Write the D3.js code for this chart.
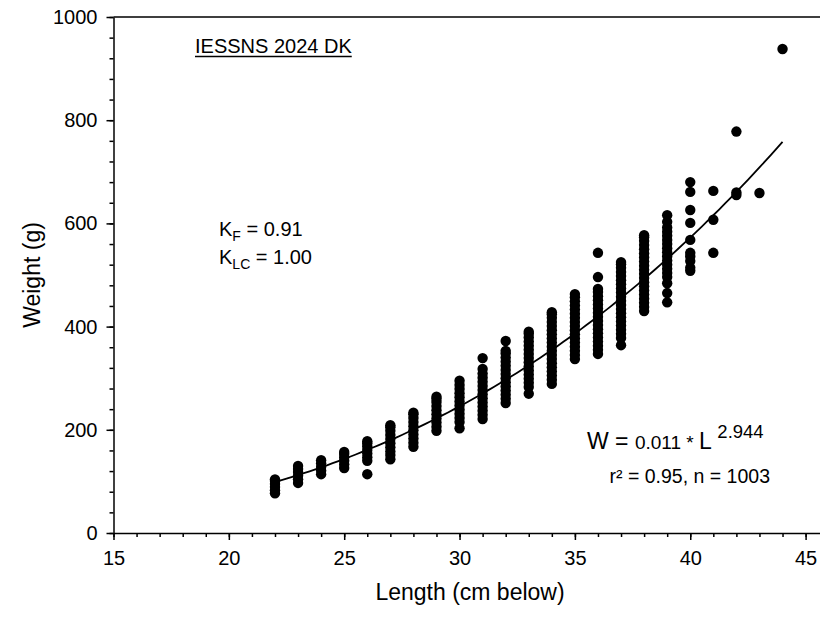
<!DOCTYPE html>
<html>
<head>
<meta charset="utf-8">
<script src="https://cdn.jsdelivr.net/npm/d3@7"></script>
<style>
  body { margin: 0; background: #fff; }
  svg { display: block; font-family: Arial, "Liberation Sans", sans-serif; }
</style>
</head>
<body>
<div id="chart-area"></div>
<script>
// lengths (cm) with the weights (g) for each length class
const lengths = [22, 23, 24, 25, 26, 27, 28, 29, 30, 31, 32, 33, 34, 35, 36, 37, 38, 39, 40, 41, 42, 43, 44];
const weights = [
    [77, 83, 89, 95, 101, 104],
    [97, 104, 111, 118, 124, 130],
    [114, 121, 128, 135, 141],
    [126, 133, 140, 147, 153, 157],
    [114, 140, 147, 154, 161, 168, 174, 178],
    [143, 151, 158, 166, 174, 182, 190, 198, 205, 209],
    [167, 175, 183, 191, 199, 207, 215, 223, 230, 233],
    [198, 206, 214, 222, 230, 238, 246, 254, 260, 264],
    [203, 215, 223, 231, 239, 247, 255, 263, 271, 279, 287, 295],
    [221, 229, 237, 245, 253, 261, 269, 277, 285, 293, 301, 309, 318, 339],
    [252, 260, 268, 276, 284, 292, 300, 308, 316, 324, 332, 340, 348, 353, 372],
    [270, 283, 291, 299, 307, 315, 323, 331, 339, 347, 355, 363, 371, 379, 386, 390],
    [289, 297, 305, 313, 321, 329, 337, 345, 353, 361, 369, 377, 385, 393, 401, 409, 417, 424, 428],
    [337, 345, 353, 361, 369, 377, 385, 393, 401, 409, 417, 425, 433, 441, 449, 457, 463],
    [347, 355, 363, 371, 379, 387, 395, 403, 411, 419, 427, 435, 443, 451, 459, 467, 473, 496, 543],
    [364, 378, 386, 394, 402, 410, 418, 426, 434, 442, 450, 458, 466, 474, 482, 490, 498, 506, 514, 521, 525],
    [430, 438, 446, 454, 462, 470, 478, 486, 494, 502, 510, 518, 526, 534, 542, 550, 558, 566, 573, 577],
    [447, 465, 484, 496, 504, 512, 520, 528, 536, 544, 552, 560, 568, 576, 584, 592, 603, 616],
    [508, 514, 527, 536, 543, 568, 601, 626, 661, 680],
    [543, 607, 663],
    [655, 660, 778],
    [659],
    [938]
];

// fitted curve W = a * L^b, as printed on the chart
const fitA = 0.011;
const fitB = 2.944;
const fitLengths = d3.range(22, 44.01, 0.25);

const xMajorTicks = [15, 20, 25, 30, 35, 40, 45];
const yMajorTicks = [0, 200, 400, 600, 800, 1000];

const points = [];
lengths.forEach((l, i) => {
    weights[i].forEach(w => points.push({ length: l, weight: w }));
});

const width = 820;
const height = 624;
const margin = { left: 113.5, top: 17 };
const chartWidth = 31 * 23.07;
const chartHeight = 516;

const svg = d3.select('#chart-area')
    .append('svg')
    .attr('width', width)
    .attr('height', height);

const g = svg.append('g')
    .attr('transform', `translate(${margin.left}, ${margin.top})`);

const x = d3.scaleLinear()
    .domain([15, 46])
    .range([0, chartWidth]);

const y = d3.scaleLinear()
    .domain([0, 1000])
    .range([chartHeight, 0]);

// frame (top and right edge)
g.append('path')
    .attr('d', `M0,0H${chartWidth}V${chartHeight}`)
    .attr('fill', 'none')
    .attr('stroke', '#000')
    .attr('stroke-width', 1.5);

// minor ticks
g.append('g')
    .attr('transform', `translate(0, ${chartHeight})`)
    .call(d3.axisBottom(x).tickValues(d3.range(15, 47)).tickSize(4).tickFormat(''))
    .call(a => a.select('.domain').remove())
    .selectAll('line').attr('stroke-width', 1.5);

g.append('g')
    .call(d3.axisLeft(y).tickValues(d3.range(0, 1001, 40)).tickSize(4).tickFormat(''))
    .call(a => a.select('.domain').remove())
    .selectAll('line').attr('stroke-width', 1.5);

// major axes
const xAxis = g.append('g')
    .attr('transform', `translate(0, ${chartHeight})`)
    .call(d3.axisBottom(x).tickValues(xMajorTicks).tickSize(7).tickSizeOuter(0).tickPadding(11));

const yAxis = g.append('g')
    .call(d3.axisLeft(y).tickValues(yMajorTicks).tickSize(7).tickSizeOuter(0).tickPadding(9)
        .tickFormat(d3.format('d')));

[xAxis, yAxis].forEach(a => {
    a.select('.domain').attr('stroke-width', 1.5);
    a.selectAll('line').attr('stroke-width', 1.5);
    a.selectAll('text')
        .attr('font-size', 20)
        .attr('font-family', 'Arial, "Liberation Sans", sans-serif')
        .attr('fill', '#000');
});

// data points
g.selectAll('circle')
    .data(points)
    .enter()
    .append('circle')
    .attr('cx', d => x(d.length))
    .attr('cy', d => y(d.weight))
    .attr('r', 5.2)
    .attr('fill', '#000');

// regression curve
const line = d3.line()
    .x(d => x(d))
    .y(d => y(fitA * Math.pow(d, fitB)));

g.append('path')
    .datum(fitLengths)
    .attr('d', line)
    .attr('fill', 'none')
    .attr('stroke', '#000')
    .attr('stroke-width', 1.8);

// axis titles
svg.append('text')
    .attr('x', 470)
    .attr('y', 600)
    .attr('text-anchor', 'middle')
    .attr('font-size', 23)
    .text('Length (cm below)');

svg.append('text')
    .attr('transform', 'translate(40, 275) rotate(-90)')
    .attr('text-anchor', 'middle')
    .attr('font-size', 23)
    .text('Weight (g)');

// title, underlined
const title = svg.append('text')
    .attr('x', 195)
    .attr('y', 53)
    .attr('font-size', 20)
    .text('IESSNS 2024 DK');
const tw = title.node().getComputedTextLength();
svg.append('line')
    .attr('x1', 195).attr('x2', 195 + tw)
    .attr('y1', 56.5).attr('y2', 56.5)
    .attr('stroke', '#000')
    .attr('stroke-width', 1.5);

// condition factors
const kf = svg.append('text').attr('x', 219).attr('y', 236).attr('font-size', 20);
kf.append('tspan').text('K');
kf.append('tspan').attr('font-size', 14).attr('dy', 5).text('F');
kf.append('tspan').attr('dy', -5).text(' = 0.91');

const klc = svg.append('text').attr('x', 219).attr('y', 264).attr('font-size', 20);
klc.append('tspan').text('K');
klc.append('tspan').attr('font-size', 14).attr('dy', 5).text('LC');
klc.append('tspan').attr('dy', -5).text(' = 1.00');

// equation
const eq = svg.append('text').attr('x', 587).attr('y', 449).attr('font-size', 23);
eq.append('tspan').text('W = ');
eq.append('tspan').attr('font-size', 19).text(`${fitA} * `);
eq.append('tspan').text('L ');
eq.append('tspan').attr('font-size', 18.5).attr('dy', -11).text(fitB);

svg.append('text')
    .attr('x', 770)
    .attr('y', 483)
    .attr('text-anchor', 'end')
    .attr('font-size', 19.5)
    .text('r² = 0.95, n = 1003');
</script>
</body>
</html>
